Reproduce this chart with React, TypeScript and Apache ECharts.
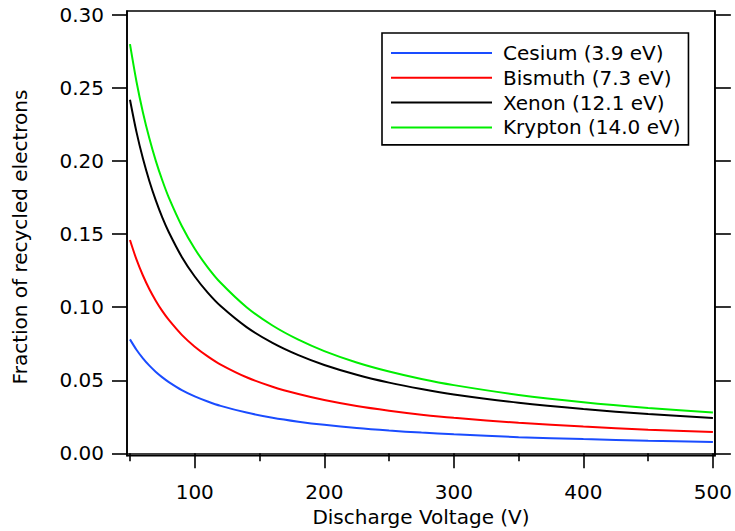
import React, { useEffect, useRef } from "react";
import * as echarts from "echarts";

const voltages = [50, 55, 60, 65, 70, 75, 80, 90, 100, 110, 120, 140, 160, 180, 200, 225, 250, 275, 300, 350, 400, 450, 500];
const cesium = [0.078, 0.0709, 0.065, 0.06, 0.0557, 0.052, 0.0488, 0.0433, 0.039, 0.0355, 0.0325, 0.0279, 0.0244, 0.0217, 0.0195, 0.0173, 0.0156, 0.0142, 0.013, 0.0111, 0.0098, 0.0087, 0.0078];
const bismuth = [0.146, 0.1327, 0.1217, 0.1123, 0.1043, 0.0973, 0.0913, 0.0811, 0.073, 0.0664, 0.0608, 0.0521, 0.0456, 0.0406, 0.0365, 0.0324, 0.0292, 0.0265, 0.0243, 0.0209, 0.0183, 0.0162, 0.0146];
const xenon = [0.242, 0.22, 0.2017, 0.1862, 0.1729, 0.1613, 0.1513, 0.1344, 0.121, 0.11, 0.1008, 0.0864, 0.0756, 0.0672, 0.0605, 0.0538, 0.0484, 0.044, 0.0403, 0.0346, 0.0303, 0.0269, 0.0242];
const krypton = [0.28, 0.2545, 0.2333, 0.2154, 0.2, 0.1867, 0.175, 0.1556, 0.14, 0.1273, 0.1167, 0.1, 0.0875, 0.0778, 0.07, 0.0622, 0.056, 0.0509, 0.0467, 0.04, 0.035, 0.0311, 0.028];

const seriesNames = ["Cesium (3.9 eV)", "Bismuth (7.3 eV)", "Xenon (12.1 eV)", "Krypton (14.0 eV)"];
const seriesColors = ["#1a4cff", "#ff0000", "#000000", "#00ee00"];
const seriesValues = [cesium, bismuth, xenon, krypton];

const xMajorTicks = [100, 200, 300, 400, 500];
const xMinorTicks = [50, 150, 250, 350, 450];
const yTicks = [0, 0.05, 0.1, 0.15, 0.2, 0.25, 0.3];

const FONT = "DejaVu Sans";

export default function App() {
  const ref = useRef<HTMLDivElement>(null);
  useEffect(() => {
    document.body.style.margin = "0";
    const chart = echarts.init(ref.current!, null, { renderer: "svg" });
    const axisLine = { show: true, lineStyle: { color: "#000", width: 1.6 } };
    chart.setOption({
      animation: false,
      backgroundColor: "#fff",
      grid: {
        left: 127, right: 19, top: 11, bottom: 75.3,
        show: true, borderColor: "#000", borderWidth: 1.6, backgroundColor: "transparent",
      },
      legend: {
        show: true,
        orient: "vertical",
        left: 382,
        top: 33,
        padding: [10, 8, 7.5, 9],
        itemGap: 4.8,
        itemWidth: 101,
        itemHeight: 2,
        icon: "rect",
        borderColor: "#000",
        borderWidth: 1.6,
        borderRadius: 0,
        backgroundColor: "#fff",
        textStyle: { fontFamily: FONT, fontSize: 20, lineHeight: 20, color: "#000", padding: [0, 0, 0, 6] },
        data: seriesNames,
      },
      xAxis: [
        {
          type: "value", min: 47.7, max: 501.5, position: "bottom",
          axisLine,
          splitLine: { show: false },
          axisTick: { show: true, customValues: xMajorTicks, length: 15, lineStyle: { color: "#000", width: 1.6 } },
          axisLabel: { show: true, customValues: xMajorTicks, margin: 26, fontFamily: FONT, fontSize: 20, color: "#000" },
        },
        {
          type: "value", min: 47.7, max: 501.5, position: "bottom",
          axisLine: { show: false },
          splitLine: { show: false },
          axisTick: { show: true, customValues: xMinorTicks, length: 8, lineStyle: { color: "#000", width: 1.6 } },
          axisLabel: { show: false },
        },
      ],
      yAxis: [
        {
          type: "value", min: -0.0016, max: 0.3027, position: "left",
          axisLine,
          splitLine: { show: false },
          axisTick: { show: true, customValues: yTicks, length: 15, lineStyle: { color: "#000", width: 1.6 } },
          axisLabel: {
            show: true, customValues: yTicks, margin: 23, fontFamily: FONT, fontSize: 20, color: "#000",
            formatter: (v: number) => v.toFixed(2),
          },
        },
        {
          type: "value", min: -0.0016, max: 0.3027, position: "right",
          axisLine,
          splitLine: { show: false },
          axisTick: { show: true, customValues: yTicks, length: 16, lineStyle: { color: "#000", width: 1.6 } },
          axisLabel: { show: false },
        },
      ],
      series: seriesValues.map((vals, i) => ({
        name: seriesNames[i],
        type: "line",
        xAxisIndex: 0,
        yAxisIndex: 0,
        data: voltages.map((v, j) => [v, vals[j]]),
        symbol: "none",
        smooth: 0.3,
        lineStyle: { color: seriesColors[i], width: 2 },
        itemStyle: { color: seriesColors[i] },
      })),
      graphic: [
        {
          type: "text", x: 421, y: 517,
          style: { text: "Discharge Voltage (V)", font: `20px "${FONT}"`, fill: "#000", align: "center", verticalAlign: "middle" },
        },
        {
          type: "text", x: 20, y: 237, rotation: Math.PI / 2,
          style: { text: "Fraction of recycled electrons", font: `20px "${FONT}"`, fill: "#000", align: "center", verticalAlign: "middle" },
        },
      ],
    });
    return () => chart.dispose();
  }, []);
  return <div ref={ref} style={{ position: "fixed", left: 0, top: 0, width: 735, height: 531 }} />;
}
